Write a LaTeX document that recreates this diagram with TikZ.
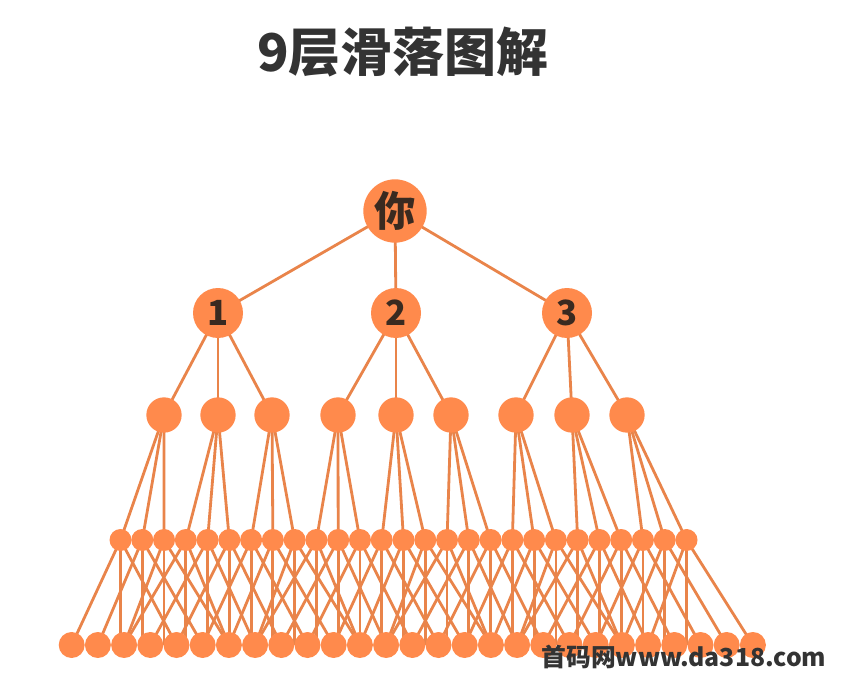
\documentclass[tikz,border=0pt]{standalone}
\usepackage{fontspec}
\newfontfamily\cjk{Noto Sans CJK SC}
\usetikzlibrary{backgrounds}
\definecolor{nodeor}{HTML}{FF8A4C}
\definecolor{lineor}{HTML}{E9844A}
\definecolor{txtdark}{HTML}{333333}
\definecolor{lbl}{HTML}{3A2A20}
\tikzset{
  ball/.style={circle, fill=nodeor, draw=none, inner sep=0pt},
  b1/.style={ball, minimum size=47.5pt},
  b2/.style={ball, minimum size=37.5pt},
  b3/.style={ball, minimum size=26.5pt},
  b4/.style={ball, minimum size=16.5pt},
  b5/.style={ball, minimum size=19.5pt},
  conn/.style={draw=lineor, line width=2.1pt},
  lab/.style={font=\cjk\bfseries\fontsize{26}{28}\selectfont, text=lbl},
}
\begin{document}
\begin{tikzpicture}[x=0.75pt, y=-0.75pt]
\useasboundingbox (0,0) rectangle (844,685);
% title
\node[font=\cjk\bfseries\fontsize{39}{42}\selectfont, text=txtdark] (title) at (403,52) {9层滑落图解};
% level 1
\node[b1, lab, font=\cjk\bfseries\fontsize{31}{33}\selectfont] (a) at (395,211) {你};
% level 2
\node[b2, lab] (b1) at (218,313) {1};
\node[b2, lab] (b2) at (396,313) {2};
\node[b2, lab] (b3) at (567,313) {3};
% level 3
\foreach \x [count=\i from 0] in {164,218,272,338,396,451,516,572,627}{
  \node[b3] (c\i) at (\x,415) {};
}
% level 4
\foreach \j in {0,...,26}{
  \pgfmathsetmacro\xf{120.5+21.77*\j}
  \node[b4] (d\j) at (\xf,540) {};
}
% level 5
\foreach \k in {0,...,26}{
  \pgfmathsetmacro\xe{71.7+26.2*\k}
  \node[b5] (e\k) at (\xe,645) {};
}
\begin{pgfonlayer}{background}
  \fill[white] (0,0) rectangle (844,685);
  \draw[conn] (a.center) -- (b1.center);
  \draw[conn] (a.center) -- (b2.center);
  \draw[conn] (a.center) -- (b3.center);
  \foreach \i in {0,1,2}{ \draw[conn] (b1.center) -- (c\i.center); }
  \foreach \i in {3,4,5}{ \draw[conn] (b2.center) -- (c\i.center); }
  \foreach \i in {6,7,8}{ \draw[conn] (b3.center) -- (c\i.center); }
  \foreach \i in {0,...,8}{
    \pgfmathtruncatemacro\ka{3*\i}
    \pgfmathtruncatemacro\kb{3*\i+1}
    \pgfmathtruncatemacro\kc{3*\i+2}
    \draw[conn] (c\i.center) -- (d\ka.center);
    \draw[conn] (c\i.center) -- (d\kb.center);
    \draw[conn] (c\i.center) -- (d\kc.center);
  }
  \foreach \j in {0,...,26}{
    \pgfmathsetmacro\xf{120.5+21.77*\j}
    \pgfmathtruncatemacro\kl{max(0,min(26,round((\xf-50-71.7)/26.2)))}
    \pgfmathtruncatemacro\kr{max(0,min(26,round((\xf+56-71.7)/26.2)))}
    \coordinate (v\j) at (d\j |- e0);
    \draw[conn] (d\j.center) -- (e\kl.center);
    \draw[conn] (d\j.center) -- (v\j);
    \draw[conn] (d\j.center) -- (e\kr.center);
  }
\end{pgfonlayer}
% watermark
\node[font=\cjk\bfseries\fontsize{18.6}{20}\selectfont, text=txtdark, inner sep=0pt] (wm) at (684,657) {首码网www.da318.com};
\end{tikzpicture}
\end{document}
